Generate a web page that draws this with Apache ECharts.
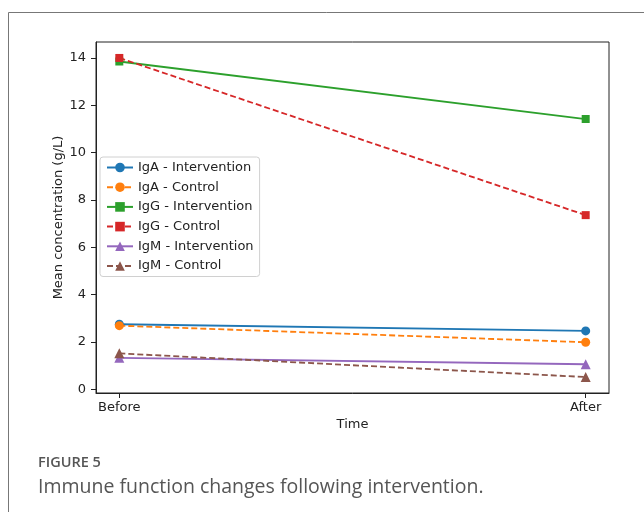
<!DOCTYPE html>
<html>
<head>
<meta charset="utf-8">
<script src="https://cdn.jsdelivr.net/npm/echarts@6/dist/echarts.min.js"></script>
<style>
  html, body { margin: 0; padding: 0; background: #fff; }
  #chart { width: 644px; height: 512px; }
</style>
</head>
<body>
<div id="chart"></div>
<script>
// Time points on the x axis
const timePoints = ['Before', 'After'];

// Mean immunoglobulin concentrations (g/L)
const igaIntervention = [2.75, 2.47];
const igaControl = [2.69, 1.99];
const iggIntervention = [13.85, 11.42];
const iggControl = [14.0, 7.36];
const igmIntervention = [1.33, 1.06];
const igmControl = [1.52, 0.52];

// Y-axis tick values
const yTicks = [0, 2, 4, 6, 8, 10, 12, 14];

const seriesDefs = [
  { name: 'IgA - Intervention', data: igaIntervention, color: '#1f77b4', symbol: 'circle', size: 9, dash: 'solid' },
  { name: 'IgA - Control', data: igaControl, color: '#ff7f0e', symbol: 'circle', size: 9, dash: [6, 3] },
  { name: 'IgG - Intervention', data: iggIntervention, color: '#2ca02c', symbol: 'rect', size: 8, dash: 'solid' },
  { name: 'IgG - Control', data: iggControl, color: '#d62728', symbol: 'rect', size: 8, dash: [6, 3] },
  { name: 'IgM - Intervention', data: igmIntervention, color: '#9467bd', symbol: 'triangle', size: 10, dash: 'solid' },
  { name: 'IgM - Control', data: igmControl, color: '#8c564b', symbol: 'triangle', size: 10, dash: [6, 3] }
];

const font = 'DejaVu Sans';
const chart = echarts.init(document.getElementById('chart'), null, { renderer: 'canvas' });

chart.setOption({
  animation: false,
  backgroundColor: '#fff',
  grid: {
    left: 96, top: 42, right: 35, bottom: 119,
    show: true, borderColor: '#222', borderWidth: 1, backgroundColor: 'transparent'
  },
  xAxis: {
    type: 'value',
    min: -0.05, max: 1.05,
    name: 'Time',
    nameLocation: 'middle',
    nameGap: 25,
    nameMoveOverlap: false,
    nameTextStyle: { fontFamily: font, fontSize: 13, color: '#222', verticalAlign: 'top' },
    axisLine: { show: true, onZero: false, lineStyle: { color: '#222', width: 1 } },
    axisTick: { show: true, length: 5, customValues: [0, 1], lineStyle: { color: '#222' } },
    axisLabel: {
      customValues: [0, 1], margin: 8,
      fontFamily: font, fontSize: 13, color: '#222',
      formatter: v => timePoints[Math.round(v)]
    },
    splitLine: { show: false }
  },
  yAxis: {
    type: 'value',
    min: -0.154, max: 14.674,
    name: 'Mean concentration (g/L)',
    nameLocation: 'middle',
    nameGap: 31,
    nameMoveOverlap: false,
    nameRotate: 90,
    nameTextStyle: { fontFamily: font, fontSize: 13, color: '#222' },
    axisLine: { show: true, onZero: false, lineStyle: { color: '#222', width: 1 } },
    axisTick: { show: true, length: 5, customValues: yTicks, lineStyle: { color: '#222' } },
    axisLabel: { customValues: yTicks, margin: 10, fontFamily: font, fontSize: 13, color: '#222' },
    splitLine: { show: false }
  },
  legend: {
    orient: 'vertical',
    left: 100, top: 157,
    itemWidth: 26, itemHeight: 12,
    itemGap: 6.7,
    padding: [4, 6, 4, 6],
    backgroundColor: 'rgba(255,255,255,0.85)',
    borderColor: '#d0d0d0', borderWidth: 1, borderRadius: 3,
    textStyle: { fontFamily: font, fontSize: 13, color: '#222' },
    data: seriesDefs.map(s => s.name)
  },
  series: seriesDefs.map(s => ({
    name: s.name,
    type: 'line',
    data: s.data.map((v, i) => [i, v]),
    symbol: s.symbol,
    symbolSize: s.size,
    showSymbol: true,
    color: s.color,
    itemStyle: { color: s.color },
    lineStyle: { color: s.color, width: 1.8, type: s.dash }
  })),
  graphic: [
    { type: 'line', shape: { x1: 8.5, y1: 12.5, x2: 644, y2: 12.5 }, style: { stroke: '#777', lineWidth: 1 } },
    { type: 'line', shape: { x1: 8.5, y1: 12.5, x2: 8.5, y2: 512 }, style: { stroke: '#777', lineWidth: 1 } },
    { type: 'text', left: 38, top: 455, style: { text: 'FIGURE 5', font: '600 14.5px "Open Sans"', fill: '#555' } },
    { type: 'text', left: 38, top: 477, style: { text: 'Immune function changes following intervention.', font: '19.5px "Open Sans"', fill: '#555' } }
  ]
});
</script>
</body>
</html>
